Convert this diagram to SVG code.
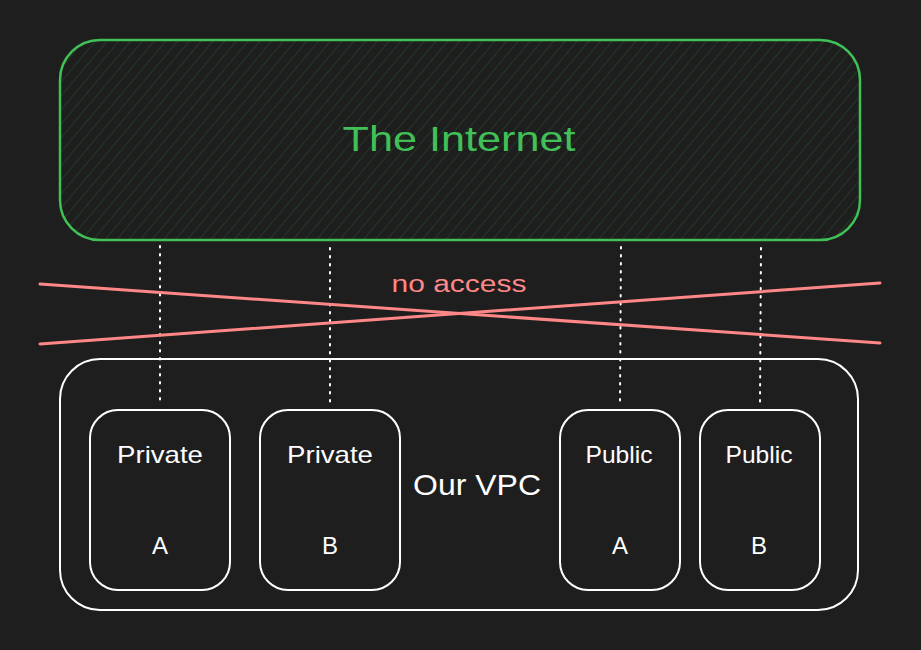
<svg xmlns="http://www.w3.org/2000/svg" width="921" height="650" viewBox="0 0 921 650">
  <defs>
    <pattern id="hatch" patternUnits="userSpaceOnUse" width="9" height="9" patternTransform="rotate(40)">
      <line x1="0" y1="0" x2="0" y2="9" stroke="#2f9e44" stroke-width="1" stroke-opacity="0.4"/>
    </pattern>
  </defs>
  <style>
    .box { fill: none; stroke: #ffffff; stroke-width: 2; }
    .lbl { fill: #ffffff; font-family: "Liberation Sans", "DejaVu Sans", sans-serif; text-anchor: middle; }
    .dot { stroke: #ffffff; stroke-width: 2; stroke-dasharray: 1.5 6.5; stroke-linecap: round; fill: none; }
    .cross { stroke: #ff8787; stroke-width: 3; stroke-linecap: round; fill: none; }
  </style>
  <rect width="921" height="650" fill="#1e1e1e"/>

  <g id="internet">
    <rect x="60" y="40" width="800" height="200" rx="40" fill="#1e1e1e"/>
    <rect x="60" y="40" width="800" height="200" rx="40" fill="url(#hatch)" stroke="#40c057" stroke-width="2.5"/>
    <text x="459" y="151" font-size="35" fill="#40c057" font-family="'Liberation Sans', 'DejaVu Sans', sans-serif" text-anchor="middle" textLength="233" lengthAdjust="spacingAndGlyphs">The Internet</text>
  </g>

  <g id="vpc">
    <rect x="60" y="359" width="798" height="251" rx="40" class="box"/>
    <text x="477" y="495" font-size="30" class="lbl" textLength="128" lengthAdjust="spacingAndGlyphs">Our VPC</text>
  </g>

  <g id="private-a">
    <rect x="90" y="410" width="140" height="180" rx="28" class="box"/>
    <text x="160" y="463" font-size="24" class="lbl" textLength="86" lengthAdjust="spacingAndGlyphs">Private</text>
    <text x="160" y="554" font-size="24" class="lbl">A</text>
  </g>
  <g id="private-b">
    <rect x="260" y="410" width="140" height="180" rx="28" class="box"/>
    <text x="330" y="463" font-size="24" class="lbl" textLength="86" lengthAdjust="spacingAndGlyphs">Private</text>
    <text x="330" y="554" font-size="24" class="lbl">B</text>
  </g>
  <g id="public-a">
    <rect x="560" y="410" width="120" height="180" rx="28" class="box"/>
    <text x="619" y="463" font-size="24" class="lbl" textLength="67" lengthAdjust="spacingAndGlyphs">Public</text>
    <text x="620" y="554" font-size="24" class="lbl">A</text>
  </g>
  <g id="public-b">
    <rect x="700" y="410" width="120" height="180" rx="28" class="box"/>
    <text x="759" y="463" font-size="24" class="lbl" textLength="67" lengthAdjust="spacingAndGlyphs">Public</text>
    <text x="759" y="554" font-size="24" class="lbl">B</text>
  </g>

  <g id="connectors">
    <line x1="160" y1="246" x2="160" y2="402" class="dot"/>
    <line x1="330" y1="248" x2="330" y2="403" class="dot"/>
    <line x1="621" y1="247" x2="620" y2="402" class="dot"/>
    <line x1="761" y1="248" x2="760" y2="403" class="dot"/>
  </g>

  <g id="no-access">
    <line x1="40" y1="284" x2="880" y2="343" class="cross"/>
    <line x1="40" y1="344" x2="880" y2="283" class="cross"/>
    <text x="459" y="292" font-size="23" fill="#ff8787" font-family="'Liberation Sans', 'DejaVu Sans', sans-serif" text-anchor="middle" textLength="135" lengthAdjust="spacingAndGlyphs">no access</text>
  </g>
</svg>
